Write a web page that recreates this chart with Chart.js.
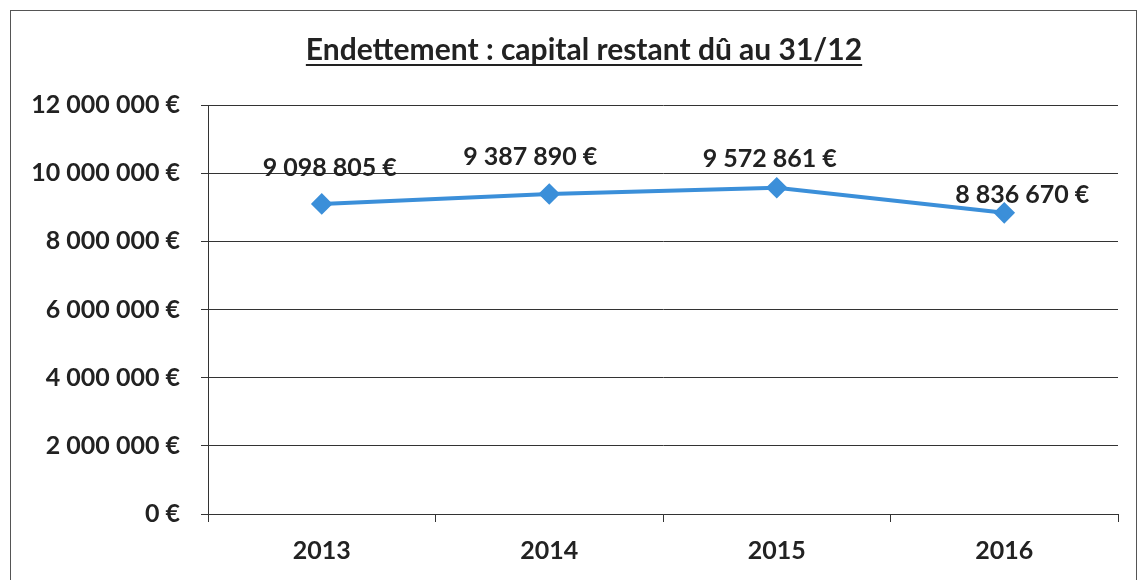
<!DOCTYPE html>
<html>
<head>
<meta charset="utf-8">
<script src="https://cdn.jsdelivr.net/npm/chart.js@4"></script>
<style>
  html, body { margin: 0; padding: 0; background: #fff; }
  #wrap { position: relative; width: 1143px; height: 580px; }
  #frame {
    position: absolute; left: 10px; top: 10px; width: 1127px; height: 600px;
    border: 1.5px solid #555; box-sizing: border-box;
  }
  canvas { position: absolute; left: 0; top: 0; }
</style>
</head>
<body>
<div id="wrap">
  <div id="frame"></div>
  <canvas id="debtChart" width="1143" height="580"></canvas>
</div>
<script>
// chart data
const years = ['2013', '2014', '2015', '2016'];
const capitalDu = [9098805, 9387890, 9572861, 8836670];
const yTicks = [0, 2000000, 4000000, 6000000, 8000000, 10000000, 12000000];
const chartTitle = 'Endettement : capital restant dû au 31/12';

function euro(v) {
    return String(v).replace(/\B(?=(\d{3})+(?!\d))/g, ' ') + ' €';
}

const fontName = 'Lato, "Open Sans", sans-serif';

// underlined title, centred on the frame like the Excel original
const underlinedTitle = {
    id: 'underlinedTitle',
    afterDraw(chart) {
        const ctx = chart.ctx;
        ctx.save();
        ctx.font = 'bold 30px ' + fontName;
        ctx.fillStyle = '#222';
        ctx.textAlign = 'center';
        ctx.textBaseline = 'alphabetic';
        const cx = 584;
        const base = 60;
        ctx.fillText(chartTitle, cx, base);
        const w = ctx.measureText(chartTitle).width;
        ctx.strokeStyle = '#222';
        ctx.lineWidth = 1.8;
        ctx.beginPath();
        ctx.moveTo(cx - w / 2, base + 5);
        ctx.lineTo(cx + w / 2, base + 5);
        ctx.stroke();
        ctx.restore();
    }
};

// value labels above the points (moved by hand in the original)
const valueLabels = {
    id: 'valueLabels',
    afterDatasetsDraw(chart, args, opts) {
        const ctx = chart.ctx;
        const meta = chart.getDatasetMeta(0);
        ctx.save();
        ctx.font = 'bold 25px ' + fontName;
        ctx.fillStyle = '#222';
        ctx.textAlign = 'center';
        ctx.textBaseline = 'middle';
        meta.data.forEach(function (pt, i) {
            const s = opts.shift[i] || [0, -36];
            ctx.fillText(euro(capitalDu[i]), pt.x + s[0], pt.y + s[1]);
        });
        ctx.restore();
    }
};

const ctx = document.getElementById('debtChart').getContext('2d');
new Chart(ctx, {
    type: 'line',
    data: {
        labels: years,
        datasets: [{
            label: 'Capital restant dû',
            data: capitalDu,
            borderColor: '#3B8FD9',
            backgroundColor: '#3B8FD9',
            borderWidth: 4,
            pointStyle: 'rectRot',
            pointRadius: 8,
            pointHoverRadius: 8,
            tension: 0,
            fill: false
        }]
    },
    options: {
        responsive: false,
        animation: false,
        layout: { padding: { left: 0, right: 25, top: 105, bottom: 0 } },
        plugins: {
            legend: { display: false },
            tooltip: { enabled: false },
            title: { display: false },
            valueLabels: {
                shift: [[8, -36], [-19, -37], [-7, -29], [18, -18]]
            }
        },
        scales: {
            x: {
                offset: true,
                afterFit(scale) { scale.height = 66; },
                grid: {
                    offset: true,
                    drawOnChartArea: false,
                    tickLength: 8,
                    color: '#333'
                },
                border: { color: '#333', width: 1 },
                ticks: {
                    color: '#222',
                    padding: 14,
                    font: { family: fontName, size: 25, weight: 'bold' }
                }
            },
            y: {
                min: 0,
                max: 12000000,
                afterFit(scale) { scale.width = 208; },
                afterBuildTicks(scale) {
                    scale.ticks = yTicks.map(function (v) { return { value: v }; });
                },
                grid: { color: '#333', tickLength: 7 },
                border: { color: '#333', width: 1 },
                ticks: {
                    color: '#222',
                    padding: 21,
                    font: { family: fontName, size: 25, weight: 'bold' },
                    callback: function (v) { return euro(v); }
                }
            }
        }
    },
    plugins: [underlinedTitle, valueLabels]
});
</script>
</body>
</html>
